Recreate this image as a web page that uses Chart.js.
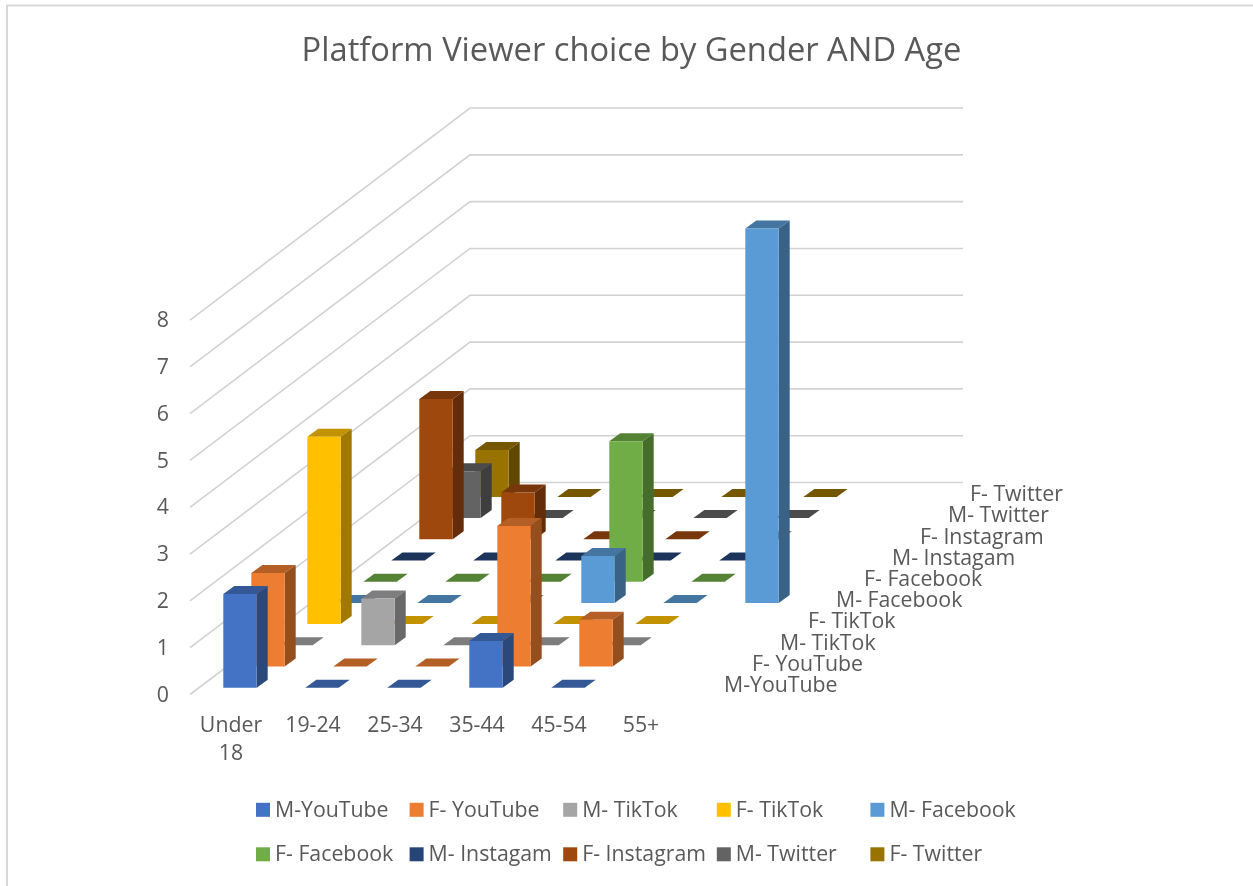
<!DOCTYPE html>
<html>
<head>
<meta charset="utf-8">
<title>Platform Viewer choice by Gender AND Age</title>
<style>
html,body{margin:0;padding:0;background:#fff;}
#wrap{position:relative;width:1253px;height:886px;overflow:hidden;}
canvas{display:block;}
</style>
<script src="https://cdn.jsdelivr.net/npm/chart.js@4"></script>
</head>
<body>
<div id="wrap"><canvas id="c" width="1253" height="886"></canvas></div>
<script>
const chartTitle = 'Platform Viewer choice by Gender AND Age';
const categories = [['Under','18'], '19-24', '25-34', '35-44', '45-54', '55+'];
const valueTicksMax = 8;

const mYouTube   = [2, 0, 0, 1, 0, null];
const fYouTube   = [2, 0, 0, 3, 1, null];
const mTikTok    = [0, 1, 0, 0, 0, null];
const fTikTok    = [4, 0, 0, 0, 0, null];
const mFacebook  = [0, 0, 0, 1, 0, 8];
const fFacebook  = [0, 0, 0, 3, 0, null];
const mInstagram = [0, 0, 0, 0, 0, null];
const fInstagram = [3, 1, 0, 0, 0, null];
const mTwitter   = [1, 0, 0, 0, 0, null];
const fTwitter   = [1, 0, 0, 0, 0, null];

const seriesNames = ['M-YouTube','F- YouTube','M- TikTok','F- TikTok','M- Facebook','F- Facebook','M- Instagam','F- Instagram','M- Twitter','F- Twitter'];
const seriesValues = [mYouTube,fYouTube,mTikTok,fTikTok,mFacebook,fFacebook,mInstagram,fInstagram,mTwitter,fTwitter];
const seriesColors = ['#4472C4','#ED7D31','#A5A5A5','#FFC000','#5B9BD5','#70AD47','#264478','#9E480E','#636363','#997300'];

/* oblique projection of the value / category / series axes */
const STEP_X = 28, STEP_Y = 21.2;          // one series further back
const BAR_W = 33.4, DEPTH_X = 11, DEPTH_Y = 8;
const BAR_SHIFT_X = -7.7, BAR_SHIFT_Y = -7.8, WALL_SHIFT_Y = -1;
const FONT = '"Open Sans", "Noto Sans", sans-serif';
const TEXT = '#595959', GRID = '#d2d2d2';
const LABEL_SIZE = 21.3;

function shade(hex, k){
  const n = parseInt(hex.slice(1),16);
  const c = [(n>>16)&255,(n>>8)&255,n&255].map(v=>Math.round(v*k));
  return `rgb(${c[0]},${c[1]},${c[2]})`;
}
function poly(ctx, pts, fill){
  ctx.beginPath();
  pts.forEach((p,i)=> i ? ctx.lineTo(p[0],p[1]) : ctx.moveTo(p[0],p[1]));
  ctx.closePath();
  ctx.fillStyle = fill;
  ctx.fill();
}

class Bar3D extends Chart.BarController {
  draw(){
    const meta = this._cachedMeta, ctx = this.chart.ctx;
    const xS = meta.xScale, yS = meta.yScale, s = this.index;
    const color = this.getDataset().backgroundColor;
    meta.data.forEach((el,i)=>{
      const v = this.getParsed(i).y;
      if (!Number.isFinite(v)) return;
      const l = xS.getPixelForValue(i) + BAR_SHIFT_X + s*STEP_X;
      const r = l + BAR_W;
      const b = yS.getPixelForValue(0) + BAR_SHIFT_Y - s*STEP_Y;
      const t = yS.getPixelForValue(v) + BAR_SHIFT_Y - s*STEP_Y;
      poly(ctx, [[l,t],[l+DEPTH_X,t-DEPTH_Y],[r+DEPTH_X,t-DEPTH_Y],[r,t]], shade(color,0.76));
      if (v > 0){
        poly(ctx, [[r,t],[r+DEPTH_X,t-DEPTH_Y],[r+DEPTH_X,b-DEPTH_Y],[r,b]], shade(color,0.63));
        poly(ctx, [[l,t],[r,t],[r,b],[l,b]], color);
      }
    });
  }
}
Bar3D.id = 'bar3d';
Bar3D.defaults = Chart.BarController.defaults;
Chart.register(Bar3D);

const wallsPlugin = {
  id:'walls',
  beforeDatasetsDraw(chart){
    const {ctx, scales:{x,y}} = chart;
    const n = seriesNames.length, wx = n*STEP_X, wy = n*STEP_Y;
    ctx.save();
    ctx.strokeStyle = GRID; ctx.lineWidth = 1.6;
    y.ticks.forEach(t=>{
      const py = y.getPixelForValue(t.value) + WALL_SHIFT_Y, xl = x.left;
      ctx.beginPath();
      ctx.moveTo(xl, py);
      ctx.lineTo(xl+wx, py-wy);
      ctx.lineTo(xl+wx+(x.right-x.left)+1, py-wy);
      ctx.stroke();
    });
    ctx.restore();
  },
  afterDraw(chart){
    const {ctx, scales:{x,y}} = chart;
    ctx.save();
    // depth axis labels
    ctx.font = LABEL_SIZE+'px '+FONT; ctx.fillStyle = TEXT;
    ctx.textAlign='left'; ctx.textBaseline='middle';
    seriesNames.forEach((name,s)=>{
      const nudge = s === seriesNames.length-1 ? -6 : 0;
      ctx.fillText(name, x.right+42+s*STEP_X+nudge, y.getPixelForValue(0)-9.5-s*STEP_Y);
    });
    // legend grid
    const cols = 5;
    seriesNames.forEach((name,s)=>{
      const lx = 256 + (s%cols)*153.6, ly = 810 + Math.floor(s/cols)*44.5;
      ctx.fillStyle = seriesColors[s];
      ctx.fillRect(lx, ly-7.2, 14, 14);
      ctx.fillStyle = TEXT;
      ctx.fillText(name, lx+19, ly+0.5);
    });
    // chart frame
    ctx.strokeStyle = '#d9d9d9'; ctx.lineWidth = 2;
    ctx.beginPath(); ctx.moveTo(7,886); ctx.lineTo(7,5.5); ctx.lineTo(1253,5.5); ctx.stroke();
    ctx.restore();
  }
};

new Chart(document.getElementById('c'), {
  type:'bar3d',
  data:{
    labels:categories,
    datasets:seriesNames.map((label,i)=>({label, data:seriesValues[i], backgroundColor:seriesColors[i], clip:false}))
  },
  plugins:[wallsPlugin],
  options:{
    responsive:false,
    animation:false,
    layout:{padding:{left:10,right:0,top:0,bottom:0}},
    events:[],
    plugins:{
      legend:{display:false},
      tooltip:{enabled:false},
      title:{display:true,text:chartTitle,color:TEXT,font:{family:FONT,size:32.7,weight:'normal',lineHeight:1.2},padding:{top:32.4,bottom:249.4}}
    },
    scales:{
      x:{type:'category',offset:true,grid:{display:false,drawTicks:false},border:{display:false},
         ticks:{color:TEXT,font:{family:FONT,size:LABEL_SIZE,lineHeight:1.32},padding:16,maxRotation:0,autoSkip:false},
         afterFit(a){a.height=190.5;}},
      y:{type:'linear',min:0,max:valueTicksMax,grid:{display:false,drawTicks:false},border:{display:false},
         ticks:{color:TEXT,font:{family:FONT,size:LABEL_SIZE},stepSize:1,padding:21},
         afterFit(a){a.width=180;}},
      spacer:{type:'linear',position:'right',display:true,grid:{display:false,drawTicks:false},border:{display:false},
         ticks:{display:false},afterFit(a){a.width=571;}}
    }
  }
});
</script>
</body>
</html>
